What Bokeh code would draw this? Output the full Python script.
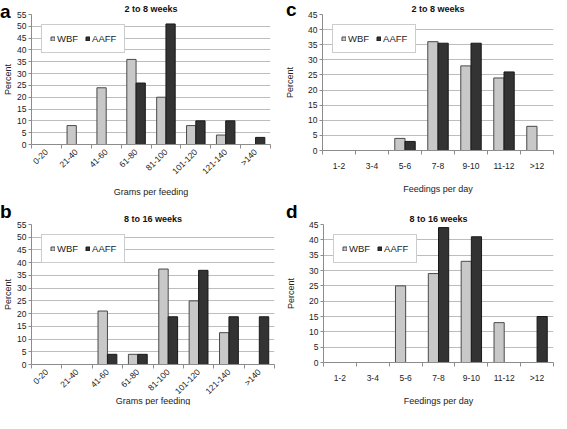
import numpy as np
from bokeh.plotting import figure
from bokeh.models import (ColumnDataSource, FixedTicker, Range1d, Legend, LegendItem, Div)
from bokeh.layouts import column, row
from bokeh.embed import file_html
from bokeh.resources import INLINE
from bokeh.transform import dodge

# ---- data ----
grams_cats = ["0-20", "21-40", "41-60", "61-80", "81-100", "101-120", "121-140", ">140"]
feed_cats = ["1-2", "3-4", "5-6", "7-8", "9-10", "11-12", ">12"]

a_wbf = [0, 8, 24, 36, 20, 8, 4, 0]
a_aaff = [0, 0, 0, 26, 51, 10, 10, 3]
b_wbf = [0, 0, 21, 4, 37.5, 25, 12.5, 0]
b_aaff = [0, 0, 4, 4, 18.75, 37, 18.75, 18.75]
c_wbf = [0, 0, 4, 36, 28, 24, 8]
c_aaff = [0, 0, 3, 35.5, 35.5, 26, 0]
d_wbf = [0, 0, 25, 29, 33, 13, 0]
d_aaff = [0, 0, 0, 44, 41, 0, 15]

grams_yticks = [0, 5, 10, 15, 20, 25, 30, 35, 40, 45, 50, 55]
feed_yticks = [0, 5, 10, 15, 20, 25, 30, 35, 40, 45]

titles = ["2 to 8 weeks", "8 to 16 weeks", "2 to 8 weeks", "8 to 16 weeks"]
letters = ["a", "b", "c", "d"]
series_names = ["WBF", "AAFF"]

FONT = "Liberation Sans"
WBF_FILL = "#c8c8c8"
AAFF_FILL = "#333333"
GRID = "#bdbdbd"
AXIS = "#8c8c8c"


def panel(cats, wbf, aaff, yticks, title, xlabel, rotate,
          fw, fh, bl, br, bt, bb, lab_std, xlab_std, ylab_std):
    n = len(cats)
    src = ColumnDataSource(dict(idx=list(range(n)), wbf=wbf, aaff=aaff))
    p = figure(frame_width=fw, frame_height=fh, output_backend="svg", toolbar_location=None,
               x_range=Range1d(-0.5, n - 0.5), y_range=Range1d(yticks[0], yticks[-1]),
               min_border_left=bl, min_border_right=br, min_border_top=bt,
               min_border_bottom=bb, tools="", title=title)
    p.outline_line_color = None
    p.background_fill_color = "white"
    p.border_fill_color = None
    p.title.align = "center"
    p.title.text_font = FONT
    p.title.text_font_size = "9px"
    p.title.text_font_style = "bold"
    p.title.text_color = "#111111"
    p.title.standoff = 2
    p.title.offset = 0

    bw = 0.31
    r1 = p.vbar(x=dodge("idx", -bw / 2), top="wbf", width=bw, source=src,
                fill_color=WBF_FILL, line_color="#4a4a4a", line_width=1)
    r2 = p.vbar(x=dodge("idx", bw / 2), top="aaff", width=bw, source=src,
                fill_color=AAFF_FILL, line_color="#1a1a1a", line_width=1)

    # axes
    p.xaxis.ticker = FixedTicker(ticks=list(range(n)),
                                 minor_ticks=[i - 0.5 for i in range(n + 1)])
    p.xaxis.major_label_overrides = {i: c for i, c in enumerate(cats)}
    p.xaxis.major_tick_line_color = None
    p.xaxis.major_tick_out = 4
    p.xaxis.major_tick_in = 0
    p.xaxis.minor_tick_line_color = AXIS
    p.xaxis.minor_tick_out = 4
    p.xaxis.minor_tick_in = 0
    p.xaxis.axis_line_color = AXIS
    p.xaxis.major_label_text_font = FONT
    p.xaxis.major_label_text_font_size = "8.5px"
    p.xaxis.major_label_text_color = "#222222"
    if rotate:
        p.xaxis.major_label_orientation = np.pi / 4
    p.xaxis.major_label_standoff = lab_std
    p.xaxis.axis_label = xlabel
    p.xaxis.axis_label_text_font = FONT
    p.xaxis.axis_label_text_font_style = "normal"
    p.xaxis.axis_label_text_font_size = "9px"
    p.xaxis.axis_label_text_color = "#222222"
    p.xaxis.axis_label_standoff = xlab_std

    p.yaxis.ticker = FixedTicker(ticks=yticks)
    p.yaxis.minor_tick_line_color = None
    p.yaxis.major_tick_line_color = AXIS
    p.yaxis.major_tick_out = 3
    p.yaxis.major_tick_in = 0
    p.yaxis.axis_line_color = AXIS
    p.yaxis.major_label_text_font = FONT
    p.yaxis.major_label_text_font_size = "8.5px"
    p.yaxis.major_label_text_color = "#222222"
    p.yaxis.major_label_standoff = 2
    p.yaxis.axis_label = "Percent"
    p.yaxis.axis_label_text_font = FONT
    p.yaxis.axis_label_text_font_style = "normal"
    p.yaxis.axis_label_text_font_size = "9px"
    p.yaxis.axis_label_text_color = "#222222"
    p.yaxis.axis_label_standoff = ylab_std

    p.xgrid.visible = False
    p.ygrid.grid_line_color = GRID
    p.ygrid.grid_line_width = 1

    legend = Legend(items=[LegendItem(label=series_names[0], renderers=[r1]),
                           LegendItem(label=series_names[1], renderers=[r2])],
                    orientation="horizontal", location="top_left",
                    margin=10, padding=8, spacing=7, label_standoff=2,
                    glyph_width=5, glyph_height=5,
                    label_text_font=FONT, label_text_font_size="9.5px",
                    label_text_color="#222222",
                    border_line_color="#9a9a9a", border_line_width=1,
                    background_fill_color="white", background_fill_alpha=1)
    p.add_layout(legend, "center")
    return p


def letter_div(t, mt, ml):
    return Div(text=t, width=16, height=24, margin=(mt, -16 - ml, 0, ml),
               styles={"font-family": FONT, "font-weight": "bold",
                       "font-size": "19px", "line-height": "1", "color": "#000000"})


pa = panel(grams_cats, a_wbf, a_aaff, grams_yticks, titles[0],
           "Grams per feeding", True, 239, 130, 26, 12, 12, 55, 2, 4, 1)
pb = panel(grams_cats, b_wbf, b_aaff, grams_yticks, titles[1],
           "Grams per feeding", True, 243, 140, 26, 8, 20, 45, 2, -7, 1)
pc = panel(feed_cats, c_wbf, c_aaff, feed_yticks, titles[2],
           "Feedings per day", False, 231, 136, 40, 1, 9, 50, 6, 10, 10)
pd = panel(feed_cats, d_wbf, d_aaff, feed_yticks, titles[3],
           "Feedings per day", False, 230, 138, 41, 1, 24, 40, 6, 10, 10)

layout = column(
    row(letter_div(letters[0], 2, 0), pa, letter_div(letters[2], 0, 4), pc),
    row(letter_div(letters[1], 2, 0), pb, letter_div(letters[3], 2, 4), pd),
)
open("out.html", "w").write(file_html(layout, INLINE))
